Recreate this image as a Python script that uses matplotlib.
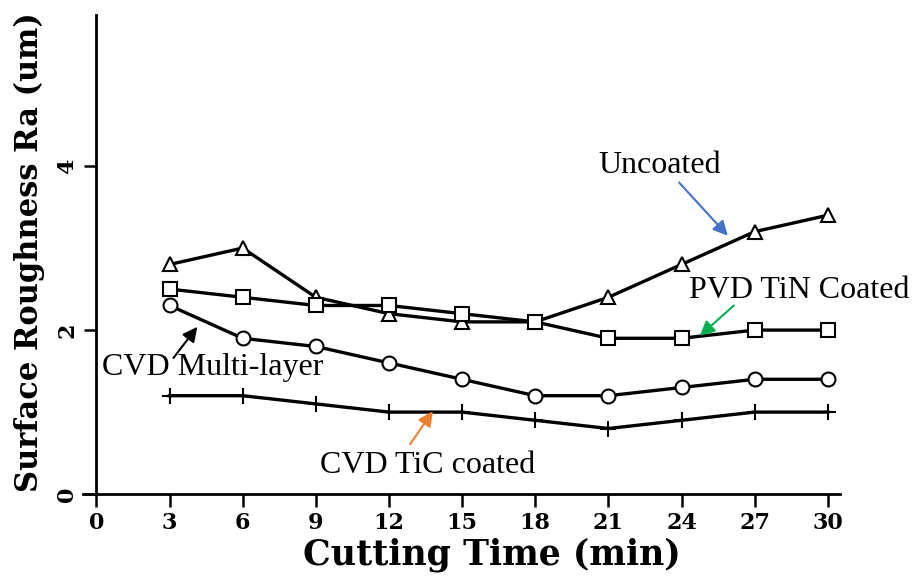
import numpy as np
import matplotlib
matplotlib.use("Agg")
import matplotlib.pyplot as plt

plt.rcParams['axes.facecolor'] = '#FFFFFF'
plt.rcParams['figure.dpi'] = 100

# cutting time (min) and Ra readings for each tool coating
cutting_time = [3, 6, 9, 12, 15, 18, 21, 24, 27, 30]
uncoated = [2.8, 3.0, 2.4, 2.2, 2.1, 2.1, 2.4, 2.8, 3.2, 3.4]
pvd_tin = [2.5, 2.4, 2.3, 2.3, 2.2, 2.1, 1.9, 1.9, 2.0, 2.0]
cvd_multi = [2.3, 1.9, 1.8, 1.6, 1.4, 1.2, 1.2, 1.3, 1.4, 1.4]
cvd_tic = [1.2, 1.2, 1.1, 1.0, 1.0, 0.9, 0.8, 0.9, 1.0, 1.0]

x_ticks = [0, 3, 6, 9, 12, 15, 18, 21, 24, 27, 30]
y_ticks = [0, 2, 4]

label_font = dict(family='DejaVu Serif', weight='bold')
note_font = dict(family='Liberation Serif', size=23)

fig = plt.figure(figsize=(9.18, 5.82))
ax = fig.add_axes([0.0904, 0.151, 0.8246, 0.823])

# y axis sits on t = 0, the time axis runs a little past it
# (set before the ticks, since moving the spine resets the axis)
ax.spines['left'].set_position(('data', 0))
for side in ['top', 'right']:
    ax.spines[side].set_visible(False)
for side in ['left', 'bottom']:
    ax.spines[side].set_linewidth(2.0)

series = [(uncoated, '^'), (pvd_tin, 's'), (cvd_multi, 'o'), (cvd_tic, '+')]
for vals, mk in series:
    ax.plot(cutting_time, vals, color='black', lw=2.4, marker=mk,
            markersize=10 if mk != '+' else 12, markerfacecolor='white',
            markeredgecolor='black', markeredgewidth=1.5, zorder=3)

ax.set_xlim(-0.55, 30.5)
ax.set_ylim(0, 5.84)
ax.set_xticks(x_ticks)
ax.set_yticks(y_ticks)
ax.set_xticklabels([str(t) for t in x_ticks], fontsize=16, **label_font)
ax.set_yticklabels([str(t) for t in y_ticks], fontsize=16, rotation=90,
                   va='center', **label_font)
ax.tick_params(axis='both', direction='out', length=9, width=1.8, pad=4)

ax.set_xlabel('Cutting Time (min)', fontsize=25, **label_font)
ax.xaxis.set_label_coords(0.54, -0.09)
ax.set_ylabel('Surface Roughness Ra (um)', fontsize=22, **label_font)
ax.yaxis.set_label_coords(-0.05, 0.505)

# callouts naming each curve
notes = [
    ('Uncoated', (23.1, 4.01), (23.9, 3.80), (25.9, 3.15), '#4472C4'),
    ('PVD TiN Coated', (28.85, 2.48), (26.15, 2.30), (24.75, 1.93), '#00B050'),
    ('CVD Multi-layer', (4.75, 1.54), (3.16, 1.66), (4.14, 2.04), 'black'),
    ('CVD TiC coated', (13.6, 0.35), (12.87, 0.61), (13.8, 1.01), '#ED7D31'),
]
for txt, pos, tail, head, col in notes:
    ax.text(pos[0], pos[1], txt, ha='center', va='center', zorder=4, **note_font)
    ax.annotate('', xy=head, xytext=tail,
                arrowprops=dict(arrowstyle='-|>', color=col, lw=1.5,
                                mutation_scale=22, shrinkA=0, shrinkB=0),
                zorder=5)

plt.savefig('out.png', dpi=100)
